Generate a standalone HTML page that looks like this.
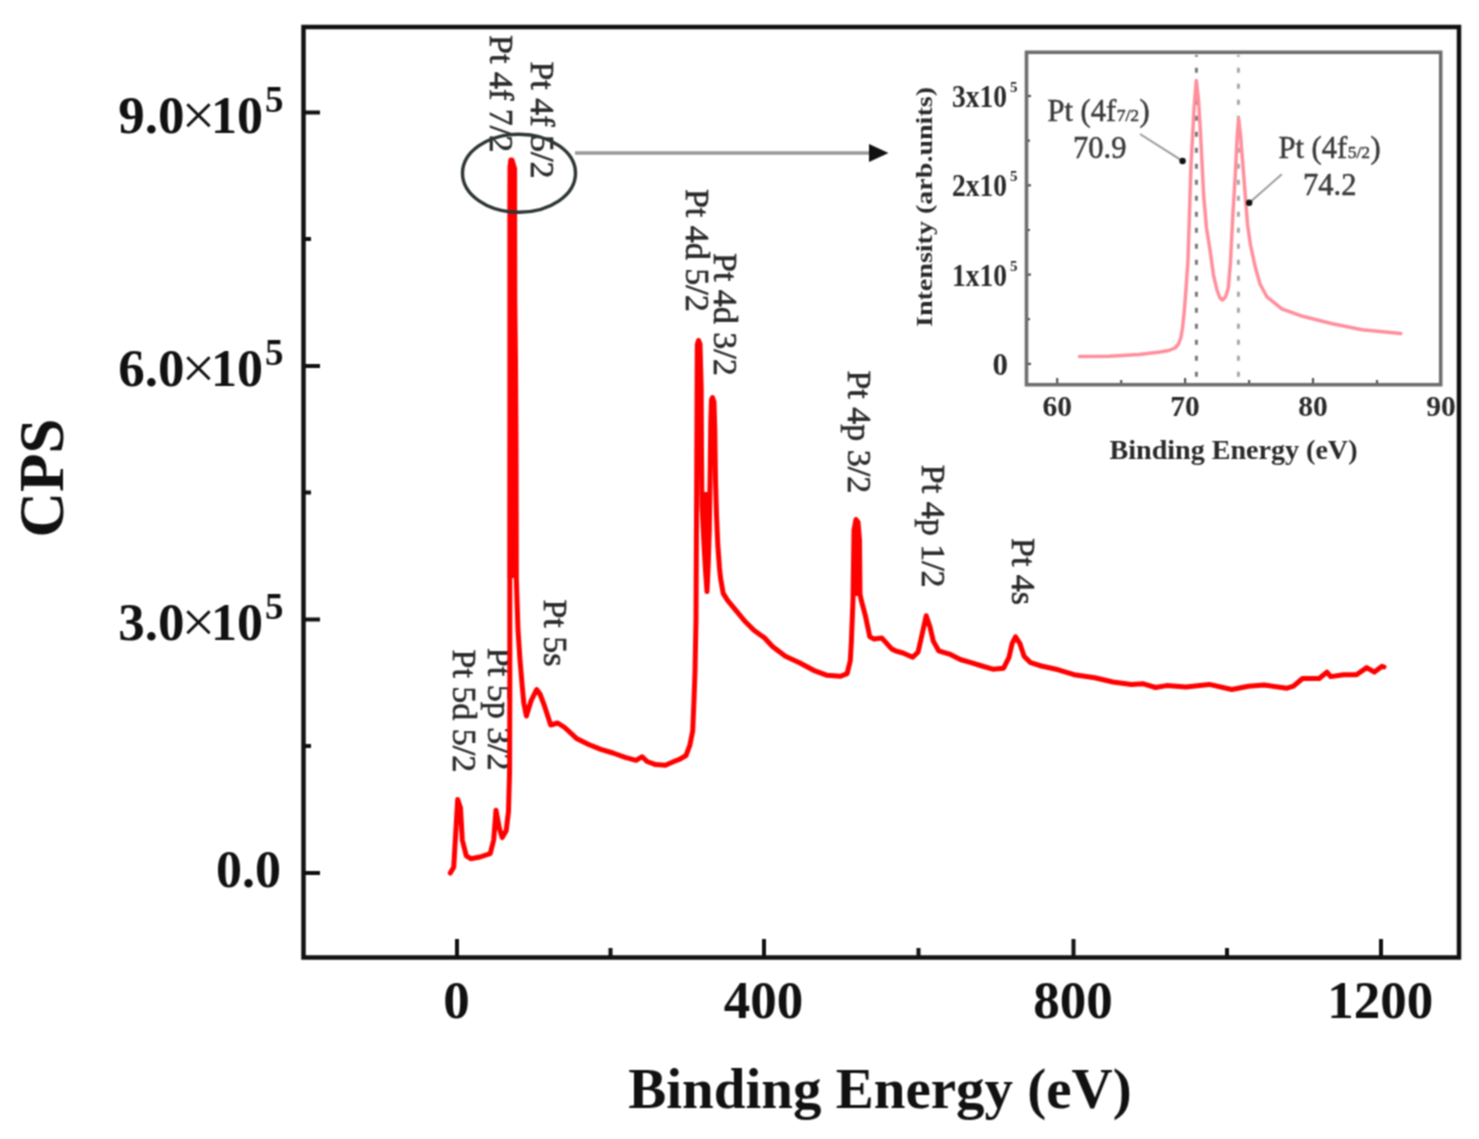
<!DOCTYPE html>
<html><head><meta charset="utf-8"><title>XPS Pt</title>
<style>
html,body{margin:0;padding:0;background:#fff;}
body{width:1479px;height:1139px;overflow:hidden;position:relative;}
svg{position:absolute;left:0;top:0;}
text{font-family:"Liberation Serif",serif;}
</style></head><body>
<svg width="1479" height="1139" viewBox="0 0 1479 1139">
<defs><filter id="bl" x="0" y="0" width="1479" height="1139" filterUnits="userSpaceOnUse" primitiveUnits="userSpaceOnUse" color-interpolation-filters="sRGB"><feConvolveMatrix order="3" kernelMatrix="1 2 1 2 4 2 1 2 1" divisor="16" edgeMode="duplicate" preserveAlpha="true"/></filter></defs>
<g filter="url(#bl)">
<rect x="0" y="0" width="1479" height="1139" fill="#fff"/>
<!-- main axes frame -->
<rect x="303.5" y="27" width="1155.5" height="930.5" fill="none" stroke="#111" stroke-width="4.5"/>
<!-- y ticks -->
<g stroke="#111" stroke-width="4">
<line x1="305" y1="112.5" x2="320" y2="112.5"/>
<line x1="305" y1="366" x2="320" y2="366"/>
<line x1="305" y1="619.5" x2="320" y2="619.5"/>
<line x1="305" y1="873" x2="320" y2="873"/>
<line x1="305" y1="239" x2="311" y2="239"/>
<line x1="305" y1="492.5" x2="311" y2="492.5"/>
<line x1="305" y1="746" x2="311" y2="746"/>
<!-- x ticks -->
<line x1="457" y1="956" x2="457" y2="939"/>
<line x1="764" y1="956" x2="764" y2="939"/>
<line x1="1073.5" y1="956" x2="1073.5" y2="939"/>
<line x1="1381" y1="956" x2="1381" y2="939"/>
<line x1="610.5" y1="956" x2="610.5" y2="948"/>
<line x1="918.5" y1="956" x2="918.5" y2="948"/>
<line x1="1227" y1="956" x2="1227" y2="948"/>
</g>
<!-- peak labels -->
<g font-size="34" fill="#2a2a2a" stroke="#2a2a2a" stroke-width="0.6">
<text transform="translate(453.2,649.5) rotate(90)">Pt 5d 5/2</text>
<text transform="translate(488.3,647.8) rotate(90)">Pt 5p 3/2</text>
<text transform="translate(543.7,599.4) rotate(90)">Pt 5s</text>
<text transform="translate(489.5,35.1) rotate(90)">Pt 4f 7/2</text>
<text transform="translate(530.8,61.4) rotate(90)">Pt 4f 5/2</text>
<text transform="translate(685.8,188.9) rotate(90)">Pt 4d 5/2</text>
<text transform="translate(713.9,253.0) rotate(90)">Pt 4d 3/2</text>
<text transform="translate(848.1,370.4) rotate(90)">Pt 4p 3/2</text>
<text transform="translate(921.8,464.8) rotate(90)">Pt 4p 1/2</text>
<text transform="translate(1012.1,538.0) rotate(90)">Pt 4s</text>
</g>
<!-- main spectrum -->
<g fill="#ff0000" stroke="none">
<polygon points="507.7,578 507.7,166 509.2,159.5 512.3,159 516.9,169 516.9,360 518,400 518.2,578"/>
<polygon points="701.8,492 711,492 710.6,530 709.6,560 707.8,589 706.2,589 703.8,560 702.3,530"/>
<polygon points="853.3,596 854.2,530 855.6,520.5 857.6,520.5 859.6,540 860.6,596"/>
</g>
<polyline fill="none" stroke="#ff0000" stroke-width="5" stroke-linejoin="round" stroke-linecap="round" points="450.3,873 453.7,867.3 456,828.5 457.7,799.4 460.5,808 462.3,840 466.3,855.9 470.8,858.7 480,857 490.2,853.6 493.7,840 496,810.2 499.4,828.5 502.2,837.6 506.2,830.8 508.5,811.4 509.6,771.4 509.8,700 509.8,600 510,400 510,200 510.2,166 510.8,160 512,160 514.6,169 514.6,200 514.8,300 515.5,360 516,450 516.3,578 518,630 520,660 522.3,687 523.8,703 526.4,716 531,701 536.6,689.5 540,694 544.4,705.7 550.7,725 557.7,723 564.7,727.5 576.5,738.4 588.7,744.5 600.9,749.4 613,753 625.2,757.3 636.1,760.3 642.2,756.7 647.1,761.5 655.6,764.6 665.4,765.2 673.9,761.5 680,759.1 686,755.5 689.7,745.7 692.7,731.1 694,700 695,672 696,620 696.3,558 696.6,500 697,400 697.3,345 698.5,340.5 700,344 701.2,388 701.5,450 702,505 704,545 705.5,570 707,591.6 708.2,565 709.3,530 710.2,470 710.8,420 711.5,400 712.5,397.5 714,402 714.8,430 715.5,480 716.5,515 717.8,545 719.5,568 720.5,578 723.2,593.4 727.6,600.4 736.3,610.9 745.1,621.5 753.9,630.2 764.4,637.8 772.5,646.5 785.4,656.3 799.5,662.7 813.6,670.3 826.5,675.2 840.6,676.3 847.1,673.6 850.3,660.6 851.4,641.1 853,600 854,530 856,519.5 858,522 859.5,540 860,594 861.2,600 865.5,616.2 869.8,636.8 874.1,638.9 881.7,637.9 891.4,648.7 895.4,650.8 903,653 912.7,657.3 918.1,651.9 922.5,632.5 926.2,615.7 930,627 933.3,641.1 938.7,650.8 949.5,654.1 960.3,659.5 971.1,662.7 982,666 992.8,669.2 1003.6,668.2 1009,657.3 1012.2,643.3 1015.5,636.8 1019.8,643.3 1024.1,656.3 1030.6,662.7 1041.4,666 1058.3,669.8 1074.1,674.7 1094.8,677.7 1113,682 1131.3,684.4 1143.4,683.8 1155.6,687.5 1166.6,685.6 1186,686.9 1209.2,684.4 1231.8,689.5 1248.5,686.2 1264,685 1287.1,688.2 1293.5,686.2 1302.5,678.5 1319.2,678.5 1326.9,672.1 1330.8,676.6 1343.6,674.7 1356.5,674.7 1366.7,667.6 1374.4,672.1 1382.1,666.3 1384,667"/>
<!-- ellipse + arrow -->
<ellipse cx="519" cy="173.3" rx="56.5" ry="39" fill="none" stroke="#2d3535" stroke-width="3.4"/>
<line x1="575" y1="153" x2="872" y2="153" stroke="#999" stroke-width="3.6"/>
<polygon points="869,144 888.5,153 869,162" fill="#111"/>
<!-- inset -->
<g>
<rect x="1026.5" y="52.3" width="414.2" height="332.4" fill="none" stroke="#6e6e6e" stroke-width="3.6"/>
<g stroke="#555" stroke-width="2.2">
<line x1="1028" y1="96" x2="1031" y2="96"/>
<line x1="1028" y1="185.3" x2="1031" y2="185.3"/>
<line x1="1028" y1="274.6" x2="1031" y2="274.6"/>
<line x1="1028" y1="363.9" x2="1031" y2="363.9"/>
<line x1="1028" y1="140.7" x2="1030" y2="140.7"/>
<line x1="1028" y1="230" x2="1030" y2="230"/>
<line x1="1028" y1="319.2" x2="1030" y2="319.2"/>
<line x1="1057.2" y1="383" x2="1057.2" y2="378"/>
<line x1="1185.1" y1="383" x2="1185.1" y2="378"/>
<line x1="1313" y1="383" x2="1313" y2="378"/>
<line x1="1121.2" y1="383" x2="1121.2" y2="380"/>
<line x1="1249.1" y1="383" x2="1249.1" y2="380"/>
<line x1="1377" y1="383" x2="1377" y2="380"/>
</g>
<g stroke-width="3" stroke-dasharray="5 11" stroke-dashoffset="3.3">
<line x1="1196.4" y1="55" x2="1196.4" y2="382" stroke="#7a7a7a"/>
<line x1="1238.4" y1="55" x2="1238.4" y2="382" stroke="#a8a8a8"/>
</g>
<polyline fill="none" stroke="#ff8f9c" stroke-width="3.5" stroke-linejoin="round" stroke-linecap="round" points="1079.5,356.5 1109.3,356.3 1139,354.4 1160,352 1168.8,350.5 1175,348 1178.5,344 1181,337 1182.5,328 1184,314 1185.5,296 1188,260 1191,165 1194,110 1196.3,80.5 1198.5,100 1200.5,133 1203.7,196 1206.5,228 1210,250 1213.4,274.6 1217,290 1220,298 1222.6,300 1225.5,297 1228.3,288 1230.5,262 1233,212 1235.3,175 1237,140 1238.6,118.5 1240.5,135 1243.7,175.3 1247.6,225 1250.5,245 1255,266 1260,284 1267,297 1281.8,308.8 1302.6,316.3 1332.4,323.7 1362.2,329.7 1400.8,333.5"/>
<g font-weight="bold" font-size="31" fill="#2a2a2a">
<text x="952" y="107" textLength="55" lengthAdjust="spacingAndGlyphs">3x10</text>
<text x="952" y="196.3" textLength="55" lengthAdjust="spacingAndGlyphs">2x10</text>
<text x="952" y="285.6" textLength="55" lengthAdjust="spacingAndGlyphs">1x10</text>
<text x="992.5" y="374.9">0</text>
</g>
<g font-weight="bold" font-size="15" fill="#2a2a2a">
<text x="1010" y="92">5</text>
<text x="1010" y="181.3">5</text>
<text x="1010" y="270.6">5</text>
</g>
<g font-weight="bold" font-size="29.5" fill="#2a2a2a" text-anchor="middle">
<text x="1057.2" y="415.5">60</text>
<text x="1185.1" y="415.5">70</text>
<text x="1313" y="415.5">80</text>
<text x="1441" y="415.5">90</text>
</g>
<text x="1109.5" y="458.5" font-weight="bold" font-size="26.5" fill="#2a2a2a" textLength="248" lengthAdjust="spacingAndGlyphs">Binding Energy (eV)</text>
<text transform="translate(931.5,327) rotate(-90)" font-weight="bold" font-size="24" fill="#2a2a2a" textLength="240" lengthAdjust="spacingAndGlyphs">Intensity (arb.units)</text>
<g font-size="30.5" fill="#3a3a3a" stroke="#3a3a3a" stroke-width="0.5">
<text x="1047.5" y="121">Pt (4f<tspan font-size="17.5" dx="0.5">7/2</tspan><tspan dx="0.5">)</tspan></text>
<text x="1073" y="158">70.9</text>
<text x="1278.5" y="157.5">Pt (4f<tspan font-size="17.5" dx="0.5">5/2</tspan><tspan dx="0.5">)</tspan></text>
<text x="1303" y="194.5">74.2</text>
</g>
<g stroke="#9a9a9a" stroke-width="2">
<line x1="1140" y1="134" x2="1182.3" y2="160.8"/>
<line x1="1281.8" y1="174.3" x2="1249.4" y2="202.7"/>
</g>
<circle cx="1182.6" cy="161" r="3.2" fill="#111"/>
<circle cx="1249.2" cy="202.7" r="3.2" fill="#111"/>
</g>
<!-- y tick labels -->
<g font-weight="bold" font-size="52" fill="#111" text-anchor="end">
<text x="184.5" y="133" font-size="53">9.0</text>
<text x="184.5" y="386" font-size="53">6.0</text>
<text x="184.5" y="640" font-size="53">3.0</text>
<text x="263" y="133">10</text>
<text x="263" y="386">10</text>
<text x="263" y="640">10</text>
<text x="281" y="887">0.0</text>
</g>
<g font-weight="normal" font-size="60" fill="#111" text-anchor="middle">
<text x="198.3" y="134.5">×</text>
<text x="198.3" y="387.5">×</text>
<text x="198.3" y="641.5">×</text>
</g>
<g font-weight="bold" font-size="37" fill="#111">
<text x="265" y="112">5</text>
<text x="265" y="365">5</text>
<text x="265" y="619">5</text>
</g>
<!-- x tick labels -->
<g font-weight="bold" font-size="53" fill="#111" text-anchor="middle">
<text x="456.5" y="1017.5">0</text>
<text x="763.5" y="1017.5">400</text>
<text x="1073" y="1017.5">800</text>
<text x="1380.2" y="1017.5">1200</text>
</g>
<!-- axis titles -->
<text x="880" y="1108" font-weight="bold" font-size="57" fill="#111" text-anchor="middle">Binding Energy (eV)</text>
<text transform="translate(63,478) rotate(-90)" font-weight="bold" font-size="63" fill="#111" text-anchor="middle">CPS</text>
</g>
</svg>
</body></html>
